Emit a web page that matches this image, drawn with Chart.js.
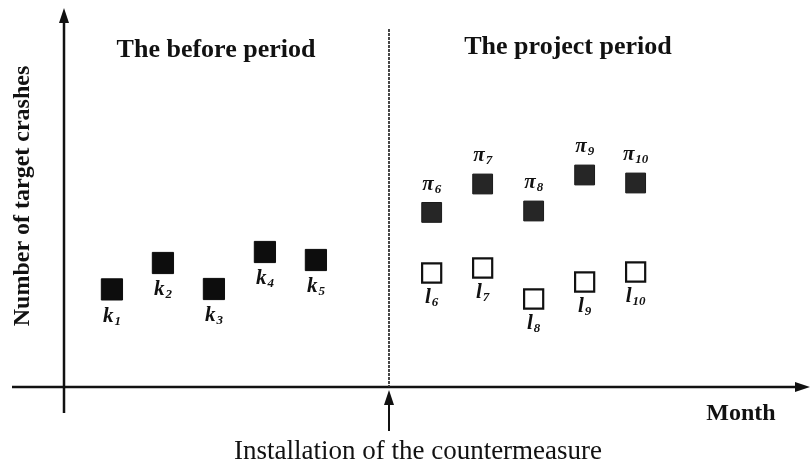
<!DOCTYPE html>
<html>
<head>
<meta charset="utf-8">
<script src="https://cdn.jsdelivr.net/npm/chart.js@4.4.0/dist/chart.umd.min.js"></script>
<style>
  html, body { margin: 0; padding: 0; background: #fff; }
</style>
</head>
<body>
<canvas id="crash-chart" width="812" height="471"></canvas>
<script>
// months on the x axis, crash counts on the y axis (schematic)
const monthsBefore = [1, 2, 3, 4, 5];
const monthsProject = [7.27, 8.27, 9.27, 10.27, 11.27];
const installMonth = 6.43;
const crashesBefore = [4.88, 6.2, 4.9, 6.75, 6.35];      // k1..k5
const expectedProject = [8.73, 10.15, 8.8, 10.6, 10.2];  // pi6..pi10
const crashesProject = [5.7, 5.95, 4.4, 5.25, 5.75];     // l6..l10
const subsBefore = ['1', '2', '3', '4', '5'];
const subsProject = ['6', '7', '8', '9', '10'];

const SERIF = '"Liberation Serif", "DejaVu Serif", serif';

function toPoints(xs, ys) {
    return xs.map((x, i) => ({ x: x, y: ys[i] }));
}

function arrowHead(ctx, x, y, dir) {
    // dir: 'up' or 'right'
    ctx.beginPath();
    if (dir === 'up') {
        ctx.moveTo(x, y);
        ctx.lineTo(x - 5, y + 15);
        ctx.lineTo(x + 5, y + 15);
    } else {
        ctx.moveTo(x, y);
        ctx.lineTo(x - 15, y - 5);
        ctx.lineTo(x - 15, y + 5);
    }
    ctx.closePath();
    ctx.fill();
}

function subLabel(ctx, base, sub, cx, cy) {
    ctx.font = 'italic bold 21px ' + SERIF;
    const wb = ctx.measureText(base).width;
    ctx.font = 'italic bold 13px ' + SERIF;
    const ws = ctx.measureText(sub).width;
    const x0 = cx - (wb + ws + 1) / 2;
    ctx.textAlign = 'left';
    ctx.textBaseline = 'middle';
    ctx.font = 'italic bold 21px ' + SERIF;
    ctx.fillText(base, x0, cy);
    ctx.font = 'italic bold 13px ' + SERIF;
    ctx.fillText(sub, x0 + wb + 1, cy + 5);
}

// axes, divider and texts
const diagramPlugin = {
    id: 'diagram',
    beforeDatasetsDraw(chart) {
        const ctx = chart.ctx;
        const area = chart.chartArea;
        const xs = chart.scales.x;
        const x0 = area.left, y0 = area.bottom;
        const xi = Math.round(xs.getPixelForValue(installMonth));
        ctx.save();
        ctx.strokeStyle = '#111';
        ctx.fillStyle = '#111';

        // y axis
        ctx.lineWidth = 2.5;
        ctx.beginPath();
        ctx.moveTo(x0, y0 + 26);
        ctx.lineTo(x0, area.top + 12);
        ctx.stroke();
        arrowHead(ctx, x0, area.top - 2, 'up');

        // x axis
        ctx.beginPath();
        ctx.moveTo(12, y0);
        ctx.lineTo(area.right - 12, y0);
        ctx.stroke();
        arrowHead(ctx, area.right + 2, y0, 'right');

        // divider between periods
        ctx.lineWidth = 1.8;
        ctx.strokeStyle = '#333';
        ctx.setLineDash([3, 1]);
        ctx.beginPath();
        ctx.moveTo(xi, 29);
        ctx.lineTo(xi, y0);
        ctx.stroke();
        ctx.setLineDash([]);

        // installation arrow
        ctx.strokeStyle = '#111';
        ctx.lineWidth = 2;
        ctx.beginPath();
        ctx.moveTo(xi, 431);
        ctx.lineTo(xi, y0 + 12);
        ctx.stroke();
        arrowHead(ctx, xi, y0 + 3, 'up');

        // texts
        ctx.textBaseline = 'middle';
        ctx.textAlign = 'center';
        ctx.font = 'bold 26px ' + SERIF;
        ctx.fillText('The before period', 216, 50);
        ctx.fillText('The project period', 568, 47);

        ctx.font = 'bold 24px ' + SERIF;
        ctx.fillText('Month', 741, 414);

        ctx.font = '27px ' + SERIF;
        ctx.fillText('Installation of the countermeasure', 418, 452);

        ctx.save();
        ctx.translate(23, 196);
        ctx.rotate(-Math.PI / 2);
        ctx.font = 'bold 24px ' + SERIF;
        ctx.fillText('Number of target crashes', 0, 0);
        ctx.restore();

        ctx.restore();
    },
    afterDatasetsDraw(chart) {
        const ctx = chart.ctx;
        ctx.save();
        ctx.fillStyle = '#111';
        chart.getDatasetMeta(0).data.forEach((p, i) => subLabel(ctx, 'k', subsBefore[i], p.x, p.y + 27));
        chart.getDatasetMeta(1).data.forEach((p, i) => subLabel(ctx, 'π', subsProject[i], p.x, p.y - 28));
        chart.getDatasetMeta(2).data.forEach((p, i) => subLabel(ctx, 'l', subsProject[i], p.x, p.y + 25));
        ctx.restore();
    }
};

new Chart(document.getElementById('crash-chart'), {
    type: 'scatter',
    data: {
        datasets: [{
            label: 'Before period',
            data: toPoints(monthsBefore, crashesBefore),
            pointStyle: 'rect',
            pointRadius: 15,
            backgroundColor: '#0d0d0d',
            borderColor: '#0d0d0d',
            borderWidth: 1
        }, {
            label: 'Expected (project)',
            data: toPoints(monthsProject, expectedProject),
            pointStyle: 'rect',
            pointRadius: 14,
            backgroundColor: '#262626',
            borderColor: '#1a1a1a',
            borderWidth: 1
        }, {
            label: 'Observed (project)',
            data: toPoints(monthsProject, crashesProject),
            pointStyle: 'rect',
            pointRadius: 13.5,
            backgroundColor: '#ffffff',
            borderColor: '#111',
            borderWidth: 2.2
        }]
    },
    options: {
        responsive: false,
        animation: false,
        layout: {
            autoPadding: false,
            padding: { left: 64, right: 4, top: 10, bottom: 84 }
        },
        plugins: {
            legend: { display: false },
            tooltip: { enabled: false }
        },
        scales: {
            x: { type: 'linear', display: false, min: 0.06, max: 14.65 },
            y: { type: 'linear', display: false, min: 0, max: 18.85 }
        }
    },
    plugins: [diagramPlugin]
});
</script>
</body>
</html>
